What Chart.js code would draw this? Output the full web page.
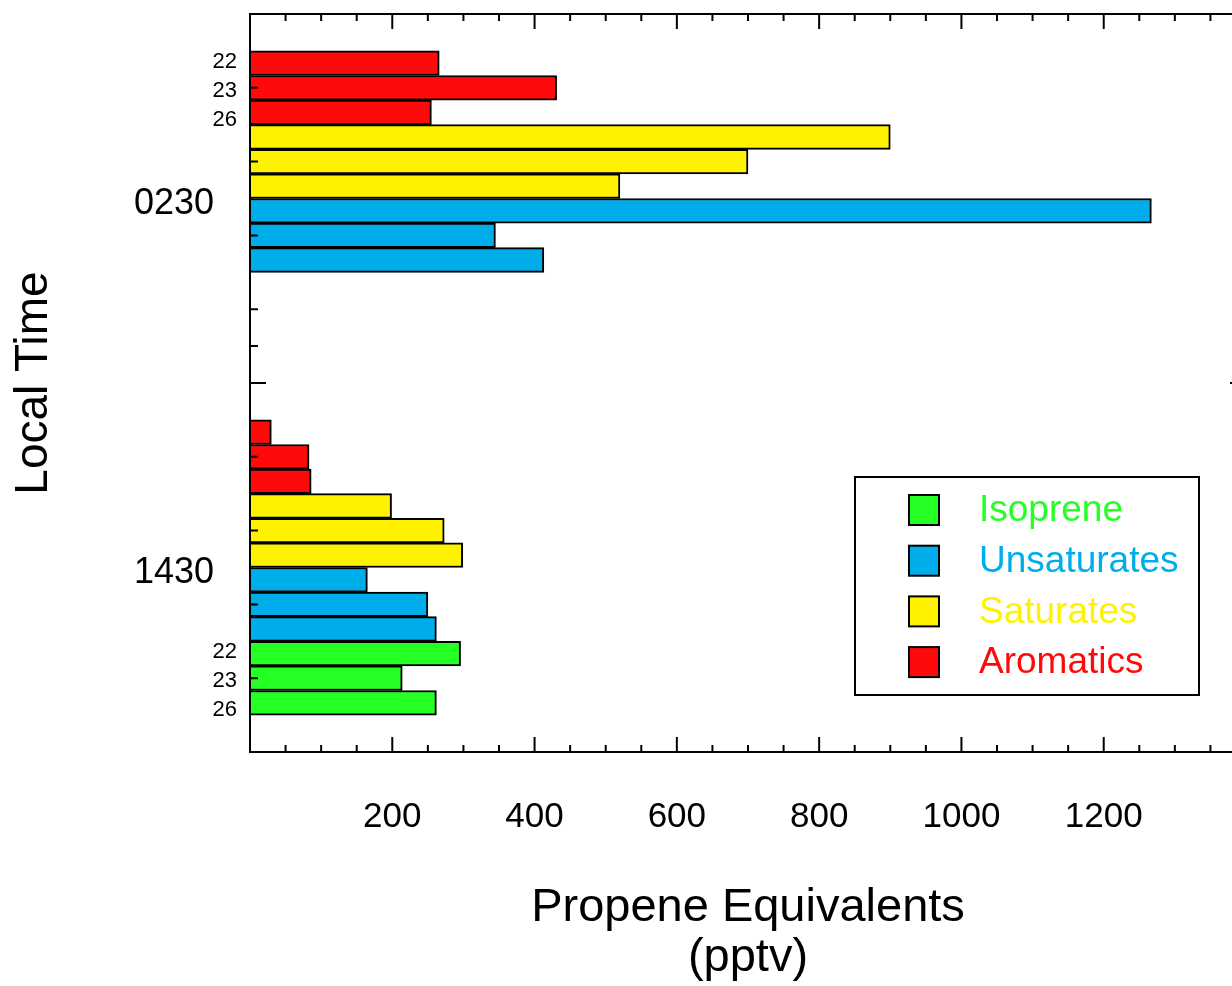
<!DOCTYPE html>
<html>
<head>
<meta charset="utf-8">
<title>Propene equivalents by local time</title>
<script src="https://cdn.jsdelivr.net/npm/chart.js@4.4.1/dist/chart.umd.min.js"></script>
<style>
  html, body { margin: 0; padding: 0; background: #fff; overflow: hidden; }
  #wrap { width: 1262px; height: 986px; }
</style>
</head>
<body>
<div id="wrap"><canvas id="chart"></canvas></div>
<script>
// blocks, days and groups (groups listed top to bottom inside a block)
const times = ['0230', '1430'];
const days = ['22', '23', '26'];
const groups = ['Aromatics', 'Saturates', 'Unsaturates', 'Isoprene'];
const legendOrder = ['Isoprene', 'Unsaturates', 'Saturates', 'Aromatics'];

// pptv propene equivalents: [0230 d22, d23, d26, 1430 d22, d23, d26]
const aromatics = [266, 431, 255, 30, 83, 86];
const saturates = [900, 700, 520, 199, 273, 299];
const unsaturates = [1267, 345, 413, 165, 250, 262];
const isoprene = [0, 0, 0, 296, 214, 262];

const xTicks = [200, 400, 600, 800, 1000, 1200];

const FONT = "'Liberation Sans', Arial, sans-serif";
const colors = {
  Aromatics: '#ff0a0a',
  Saturates: '#fff200',
  Unsaturates: '#00adeb',
  Isoprene: '#24ff24'
};
const seriesByGroup = { Aromatics: aromatics, Saturates: saturates, Unsaturates: unsaturates, Isoprene: isoprene };

const rowName = (ti, g, di) => `${times[ti]} ${g} ${days[di]}`;

// category rows: two spare rows top and bottom, three between the two blocks
const rows = ['top a', 'top b'];
times.forEach((t, ti) => {
  if (ti > 0) rows.push('gap a', 'gap b', 'gap c');
  groups.forEach(g => days.forEach((d, di) => rows.push(rowName(ti, g, di))));
});
rows.push('bottom a', 'bottom b');

const datasets = groups.map(g => ({
  label: g,
  backgroundColor: colors[g],
  data: times.flatMap((t, ti) => days.map((d, di) => ({
    y: rowName(ti, g, di),
    x: seriesByGroup[g][ti * days.length + di]
  })))
}));

const framePlugin = {
  id: 'frame',
  afterDraw(chart) {
    const { ctx, chartArea: a, scales: { x, y } } = chart;
    ctx.save();
    ctx.strokeStyle = '#000';
    ctx.lineWidth = 2;
    ctx.strokeRect(a.left, a.top, a.right - a.left, a.bottom - a.top);

    // x tick marks every 50, long ones every 200, on top and bottom
    ctx.beginPath();
    for (let v = x.min; v <= x.max; v += 50) {
      const px = x.getPixelForValue(v);
      const len = v % 200 === 0 ? 15 : 7;
      ctx.moveTo(px, a.bottom); ctx.lineTo(px, a.bottom - len);
      ctx.moveTo(px, a.top); ctx.lineTo(px, a.top + len);
    }
    // y tick marks: middle day of every group, then the gap between blocks
    const yMarks = [];
    times.forEach((t, ti) => groups.forEach(g => yMarks.push([rows.indexOf(rowName(ti, g, 1)), 8])));
    yMarks.push([rows.indexOf('gap a') - 0.5, 8], [rows.indexOf('gap b'), 16]);
    yMarks.forEach(([idx, len]) => {
      const py = y.getPixelForValue(idx);
      ctx.moveTo(a.left, py); ctx.lineTo(a.left + len, py);
      ctx.moveTo(a.right, py); ctx.lineTo(a.right - len, py);
    });
    ctx.stroke();

    // y labels
    ctx.fillStyle = '#000';
    ctx.textAlign = 'right';
    ctx.textBaseline = 'middle';
    const rowH = y.getPixelForValue(1) - y.getPixelForValue(0);
    const dayLabels = (ti, g) => {
      const mid = y.getPixelForValue(rows.indexOf(rowName(ti, g, 1)));
      ctx.font = `22px ${FONT}`;
      days.forEach((d, di) => ctx.fillText(d, a.left - 13, mid + 3 + (di - 1) * rowH * 1.18));
    };
    dayLabels(0, groups[0]);
    dayLabels(times.length - 1, groups[groups.length - 1]);
    ctx.font = `36px ${FONT}`;
    times.forEach((t, ti) => {
      const first = y.getPixelForValue(rows.indexOf(rowName(ti, groups[0], 0)));
      const last = y.getPixelForValue(rows.indexOf(rowName(ti, groups[groups.length - 1], days.length - 1)));
      ctx.fillText(t, a.left - 36, (first + last) / 2 + 6);
    });

    // legend box
    const bx = 855, by = 477, bw = 344, bh = 218;
    ctx.fillStyle = '#fff';
    ctx.fillRect(bx, by, bw, bh);
    ctx.strokeRect(bx, by, bw, bh);
    ctx.textAlign = 'left';
    ctx.font = `37px ${FONT}`;
    legendOrder.forEach((name, i) => {
      const ds = chart.data.datasets.find(d => d.label === name);
      const cy = by + 33 + i * 50.7;
      ctx.fillStyle = ds.backgroundColor;
      ctx.fillRect(909, cy - 15, 30, 30);
      ctx.strokeRect(909, cy - 15, 30, 30);
      ctx.fillText(name, 979, cy + 1);
    });
    ctx.restore();
  }
};

new Chart(document.getElementById('chart'), {
  type: 'bar',
  data: { labels: rows, datasets },
  options: {
    responsive: true,
    maintainAspectRatio: false,
    animation: false,
    indexAxis: 'y',
    layout: { padding: { top: 14, right: 16, left: 0, bottom: 0 } },
    datasets: {
      bar: {
        grouped: false,
        barPercentage: 1,
        categoryPercentage: 1,
        borderWidth: 2,
        borderColor: '#000',
        borderSkipped: 'start'
      }
    },
    plugins: {
      legend: { display: false },
      tooltip: { enabled: false }
    },
    scales: {
      x: {
        type: 'linear',
        position: 'bottom',
        min: 0,
        max: 1400,
        afterBuildTicks: (s) => { s.ticks = xTicks.map(v => ({ value: v })); },
        afterFit: (s) => { s.height = 234; },
        ticks: {
          padding: 44,
          color: '#000',
          font: { size: 35, family: FONT },
          autoSkip: false,
          maxRotation: 0,
          callback: (v) => String(v)
        },
        grid: { display: false, drawTicks: false },
        border: { display: false },
        title: {
          display: true,
          text: ['Propene Equivalents', '(pptv)'],
          color: '#000',
          font: { size: 47, family: FONT, lineHeight: 50 / 47 },
          padding: { top: 0, bottom: 3 }
        }
      },
      y: {
        type: 'category',
        offset: false,
        afterFit: (s) => { s.width = 250; },
        ticks: { display: false },
        grid: { display: false, drawTicks: false },
        border: { display: false },
        title: {
          display: true,
          text: 'Local Time',
          color: '#000',
          font: { size: 46, family: FONT },
          padding: { top: 7, bottom: 0 }
        }
      }
    }
  },
  plugins: [framePlugin]
});
</script>
</body>
</html>
